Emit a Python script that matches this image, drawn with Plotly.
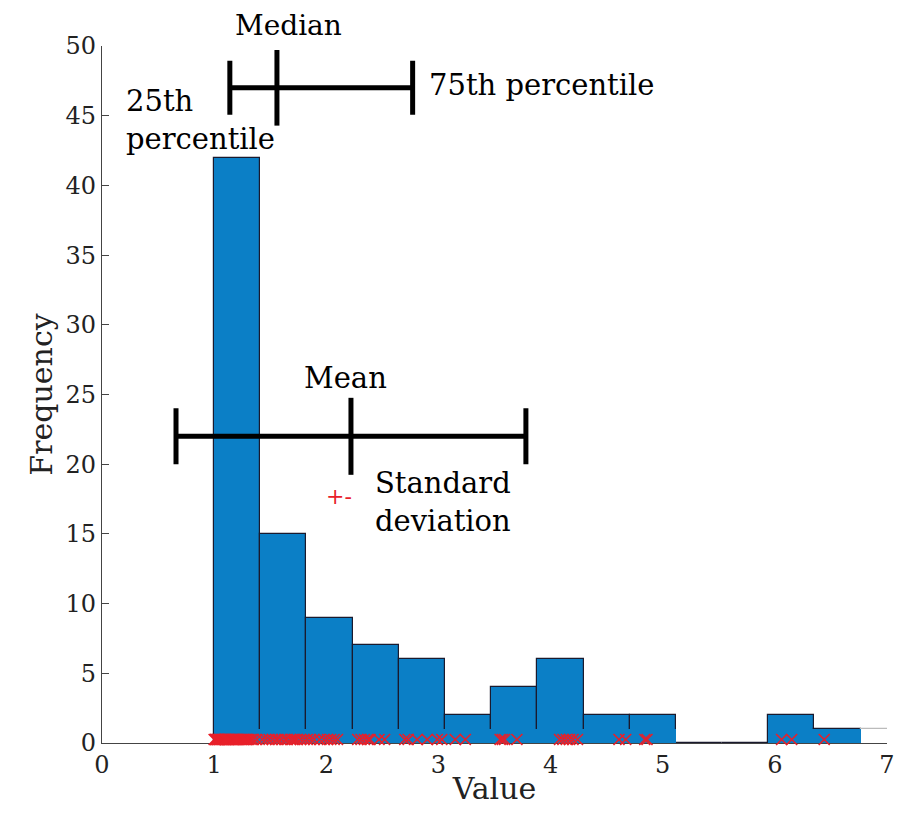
import plotly.graph_objects as go

# ---- data ----
BIN_START = 1.0
BIN_WIDTH = 0.4117
counts = [42, 15, 9, 7, 6, 2, 4, 6, 2, 2, 0, 0, 2, 1, 1]
bar_colors = ["#0b7fc6"] * 14 + ["#ffffff"]
bar_lines = ["#1a1a2e"] * 14 + ["#bbbbbb"]

values = [
    1.00, 1.01, 1.01, 1.02, 1.03, 1.03, 1.04, 1.05, 1.05, 1.06, 1.07, 1.07, 1.08, 1.09,
    1.10, 1.10, 1.11, 1.12, 1.13, 1.13, 1.14, 1.15, 1.16, 1.17, 1.17, 1.18, 1.19, 1.20,
    1.21, 1.22, 1.23, 1.24, 1.25, 1.26, 1.27, 1.28, 1.29, 1.30, 1.31, 1.33, 1.35, 1.38,
    1.43, 1.46, 1.49, 1.52, 1.55, 1.57, 1.60, 1.63, 1.65, 1.68, 1.70, 1.72, 1.74, 1.77, 1.80,
    1.83, 1.86, 1.89, 1.94, 1.98, 2.01, 2.04, 2.07, 2.10,
    2.28, 2.31, 2.34, 2.37, 2.39, 2.47, 2.52,
    2.70, 2.73, 2.81, 2.90, 2.99, 3.03,
    3.15, 3.24,
    3.55, 3.57, 3.59, 3.70,
    4.08, 4.11, 4.14, 4.17, 4.20, 4.24,
    4.61, 4.67,
    4.84, 4.86,
    6.06, 6.15,
    6.44,
]

p25, median, p75 = 1.14, 1.56, 2.77
mean, std = 2.22, 1.56
median_bar_y = 47.0
mean_bar_y = 22.0
MARK_Y = 0.25

x_ticks = [0, 1, 2, 3, 4, 5, 6, 7]
y_ticks = [0, 5, 10, 15, 20, 25, 30, 35, 40, 45, 50]

FONT = "DejaVu Serif"
RED = "#e8202a"

centers = [BIN_START + BIN_WIDTH * (i + 0.5) for i in range(len(counts))]
band = [1 if c > 0 else 0 for c in counts]

fig = go.Figure()

# histogram bars with outline
fig.add_trace(go.Bar(
    x=centers, y=counts, width=BIN_WIDTH,
    marker=dict(color=bar_colors, line=dict(color=bar_lines, width=1.2)),
    showlegend=False, hoverinfo="skip",
))
# bottom band without outline
fig.add_trace(go.Bar(
    x=centers, y=band, width=BIN_WIDTH,
    marker=dict(color=bar_colors, line=dict(width=0)),
    showlegend=False, hoverinfo="skip",
))
# data points
fig.add_trace(go.Scatter(
    x=values, y=[MARK_Y] * len(values), mode="markers",
    marker=dict(symbol="x-thin-open", size=11, color=RED, line=dict(color=RED, width=1.6)),
    showlegend=False, cliponaxis=False,
))
# percentile bar
fig.add_trace(go.Scatter(
    x=[median], y=[median_bar_y], mode="markers",
    marker=dict(symbol="line-ns", size=54, color="black", line=dict(color="black", width=5)),
    error_x=dict(type="data", symmetric=False, array=[p75 - median],
                 arrayminus=[median - p25], color="black", thickness=5, width=27),
    showlegend=False, cliponaxis=False,
))
# mean +- std bar
fig.add_trace(go.Scatter(
    x=[mean], y=[mean_bar_y], mode="markers",
    marker=dict(symbol="line-ns", size=55, color="black", line=dict(color="black", width=5)),
    error_x=dict(type="data", array=[std], color="black", thickness=5, width=28),
    showlegend=False, cliponaxis=False,
))

tf = dict(family=FONT, size=29, color="black")
anns = [
    dict(x=0.20, y=44.7, text="25th<br>percentile", xanchor="left", yanchor="middle", align="left"),
    dict(x=2.90, y=47.2, text="75th percentile", xanchor="left", yanchor="middle"),
    dict(x=2.17, y=26.2, text="Mean", xanchor="center", yanchor="middle"),
    dict(x=2.42, y=17.3, text="Standard<br>deviation", xanchor="left", yanchor="middle", align="left"),
]
for a in anns:
    fig.add_annotation(**a, xref="x", yref="y", showarrow=False, font=tf)
fig.add_annotation(x=1.66, y=1.029, text="Median", xref="x", yref="paper",
                   xanchor="center", yanchor="middle", showarrow=False,
                   font=dict(family=FONT, size=28, color="black"))
fig.add_annotation(x=2.11, y=17.7, text="+-", xref="x", yref="y", showarrow=False,
                   font=dict(family=FONT, size=22, color=RED))

# page body has an 8px margin, so the figure is shrunk to avoid scrollbars
fig.update_layout(
    width=888, height=803,
    margin=dict(l=94, r=9, t=38, b=68, autoexpand=False),
    paper_bgcolor="white", plot_bgcolor="white",
    barmode="overlay", bargap=0,
    font=dict(family=FONT, color="#222"),
    xaxis=dict(
        range=[0, 7], tickvals=x_ticks, ticks="inside", ticklen=7, automargin=False,
        showline=True, linecolor="#444", linewidth=1.3, showgrid=False, zeroline=False,
        tickfont=dict(family=FONT, size=24, color="#222"), layer="below traces",
        ticklabeloverflow="allow",
        title=dict(text="Value", font=dict(family=FONT, size=30, color="#222"), standoff=0),
    ),
    yaxis=dict(
        range=[0, 50], tickvals=y_ticks, ticks="inside", ticklen=7, automargin=False,
        showline=True, linecolor="#444", linewidth=1.3, showgrid=False, zeroline=False,
        tickfont=dict(family=FONT, size=24, color="#222"), layer="below traces",
        title=dict(text="Frequency", font=dict(family=FONT, size=30, color="#222"), standoff=4),
    ),
)

fig.write_html("out.html")
